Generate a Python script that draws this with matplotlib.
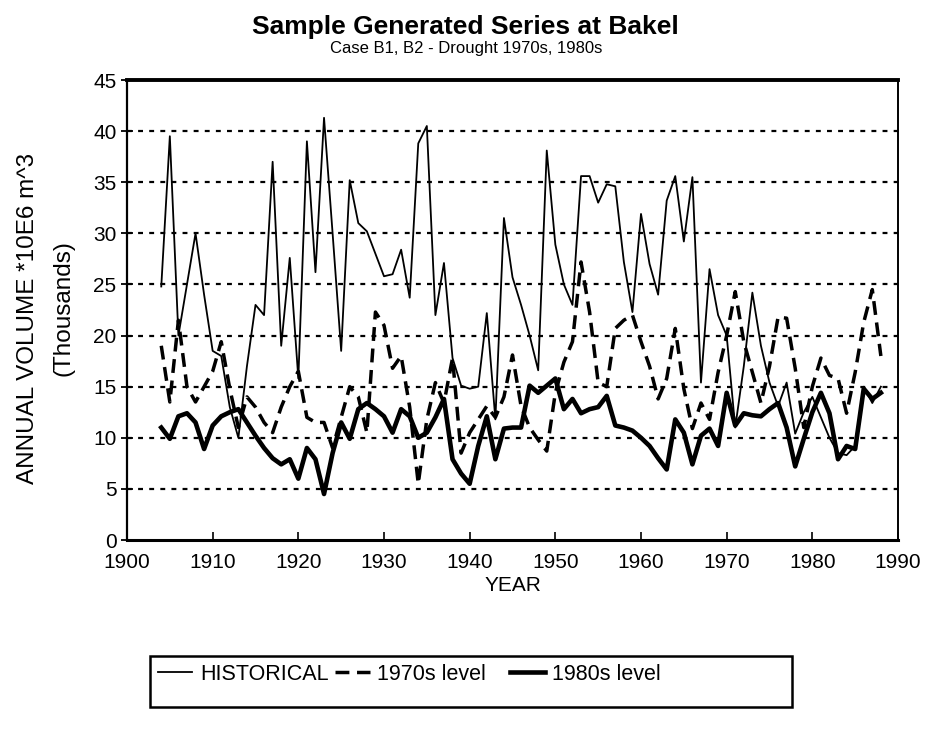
import matplotlib
matplotlib.use("Agg")
import matplotlib.pyplot as plt
from matplotlib.lines import Line2D
from matplotlib.patches import Rectangle

plt.rcParams['font.family'] = ['Liberation Sans', 'DejaVu Sans']

years = list(range(1904, 1989))

historical = [24.8, 39.5, 20, 25, 30, 24, 18.5, 18, 13, 10,
              17, 23, 22, 37, 19, 27.6, 15.8, 39, 26.2, 41.3,
              30, 18.5, 35.2, 31, 30.2, 28, 25.8, 26, 28.4, 23.7,
              38.8, 40.5, 22, 27.1, 17.8, 15.1, 14.8, 15, 22.2, 11.8,
              31.5, 25.7, 23, 20, 16.6, 38.1, 28.9, 25, 23, 35.6,
              35.6, 33, 34.8, 34.6, 27.2, 22.3, 31.9, 27, 24, 33.2,
              35.6, 29.2, 35.5, 15.4, 26.5, 22, 20, 11, 17, 24.2,
              19, 15.4, 13.1, 15.4, 10.4, 12.5, 14, 12, 10, 8.5,
              8.3, 9.2, 15, 13.4, 15]

level_1970s = [19, 13.5, 21.5, 15, 13.5, 15, 16.5, 19.4, 14.8, 11,
               14, 13, 11.5, 10.5, 13, 15, 16.5, 12, 11.5, 11.5,
               9, 12, 15, 14, 10.5, 22.3, 21, 16.8, 18, 13,
               5.5, 11.8, 15.4, 13.4, 17.8, 8.5, 10.5, 11.8, 13.1, 12,
               14, 18.1, 13.1, 11, 9.8, 8.7, 14.4, 17.4, 19.4, 27.2,
               22.3, 15.4, 15, 20.7, 21.5, 22, 19.4, 17, 13.8, 15.8,
               20.7, 14.8, 10.9, 13.4, 11.8, 16.4, 20, 24.3, 19.4, 16.4,
               13.4, 17, 21.8, 21.7, 16.8, 11, 15, 17.8, 16.1, 15.8,
               12.4, 16.4, 21.3, 24.5, 18]

level_1980s = [11, 9.9, 12.1, 12.4, 11.5, 8.9, 11.2, 12.1, 12.5, 12.8,
               11.5, 10.2, 9, 8, 7.4, 7.9, 6, 9, 7.9, 4.5,
               8.5, 11.5, 9.9, 12.8, 13.4, 12.8, 12.1, 10.5, 12.8, 12.1,
               10, 10.5, 12, 13.8, 7.9, 6.5, 5.5, 9.2, 12.1, 7.9,
               10.9, 11, 11, 15.1, 14.4, 15.1, 15.8, 12.8, 13.8, 12.4,
               12.8, 13, 14.1, 11.2, 11, 10.7, 10, 9.2, 8, 6.9,
               11.8, 10.5, 7.4, 10.2, 10.9, 9.2, 14.4, 11.2, 12.4, 12.2,
               12.1, 12.8, 13.4, 11, 7.2, 9.9, 12.5, 14.4, 12.4, 7.9,
               9.2, 8.9, 14.8, 13.8, 14.4]

x_ticks = list(range(1900, 1991, 10))
y_ticks = list(range(0, 46, 5))

W, H = 930, 733
fig = plt.figure(figsize=(W / 100, H / 100), dpi=100)
L, R, T, B = 127, 898, 80, 540
ax = fig.add_axes([L / W, 1 - B / H, (R - L) / W, (B - T) / H])

for yv in y_ticks[1:-1]:
    ax.axhline(yv, color='black', lw=1.6, ls=(0, (2.2, 2.8)), zorder=1)

ax.plot(years, historical, color='black', lw=1.3, zorder=3)
ax.plot(years, level_1970s, color='black', lw=2.5, ls=(0, (4, 2.2)), zorder=3)
ax.plot(years, level_1980s, color='black', lw=3.3, zorder=4)

ax.set_xlim(1900, 1990)
ax.set_ylim(0, 45)
ax.set_xticks(x_ticks)
ax.set_yticks(y_ticks)
ax.tick_params(axis='y', direction='inout', length=9, width=1.3, labelsize=15, pad=3)
ax.tick_params(axis='x', direction='in', length=6, width=1.2, labelsize=15, pad=9)
for side, lw in [('left', 1.6), ('bottom', 2.2), ('top', 2.8), ('right', 1.4)]:
    ax.spines[side].set_linewidth(lw)
    ax.spines[side].set_color('black')

ax.set_xlabel('YEAR', fontsize=15, labelpad=3)
fig.text(28 / W, 1 - 318 / H, "ANNUAL VOLUME *10E6 m^3", rotation=90,
         ha='center', va='center', fontsize=17.5)
fig.text(63 / W, 1 - 308 / H, "(Thousands)", rotation=90,
         ha='center', va='center', fontsize=17.5)

fig.text(465 / W, 1 - 27 / H, "Sample Generated Series at Bakel",
         ha='center', va='center', fontsize=19, fontweight='bold')
fig.text(466 / W, 1 - 49 / H, "Case B1, B2 - Drought 1970s, 1980s",
         ha='center', va='center', fontsize=12)

handles = [Line2D([], [], color='black', lw=1.3),
           Line2D([], [], color='black', lw=2.5, ls=(0, (4, 2.2))),
           Line2D([], [], color='black', lw=3.3)]
fig.legend(handles, ['HISTORICAL', '1970s level   ', '1980s level'],
           loc='center left', bbox_to_anchor=(158 / W, 1 - 674 / H), ncol=3,
           frameon=False, fontsize=15.5, handlelength=1.6, columnspacing=0.3,
           handletextpad=0.35, borderpad=0, borderaxespad=0)
fig.patches.append(Rectangle((150 / W, 1 - 707 / H), 642 / W, 51 / H,
                             transform=fig.transFigure, fill=False,
                             edgecolor='black', lw=1.8))

fig.savefig('out.png', dpi=100)
